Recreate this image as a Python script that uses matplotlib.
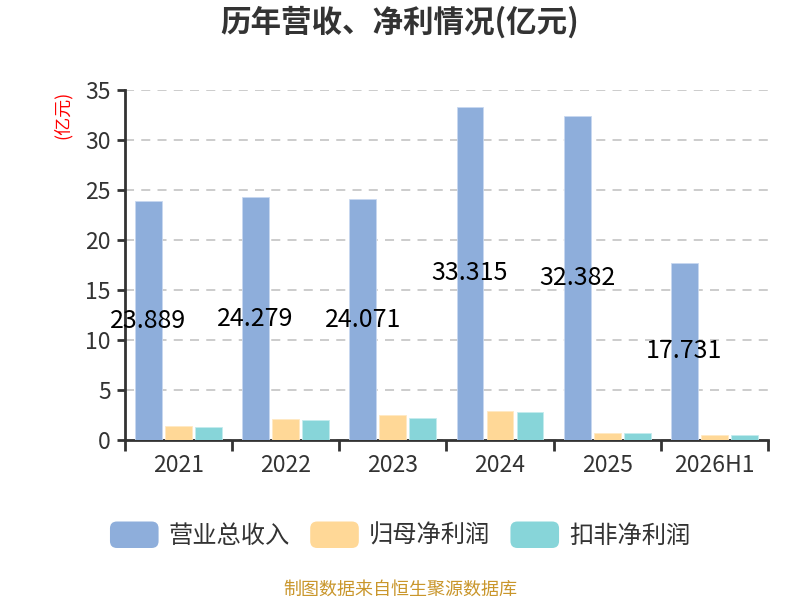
import matplotlib
matplotlib.use("Agg")
import matplotlib.pyplot as plt
import numpy as np
from matplotlib.patches import FancyBboxPatch, Patch
from matplotlib.legend_handler import HandlerPatch

plt.rcParams['font.family'] = ['Noto Sans CJK SC', 'DejaVu Sans']

years = ["2021", "2022", "2023", "2024", "2025", "2026H1"]
revenue = [23.889, 24.279, 24.071, 33.315, 32.382, 17.731]
net_profit = [1.40, 2.10, 2.53, 2.93, 0.73, 0.53]
deducted_profit = [1.30, 2.00, 2.20, 2.83, 0.73, 0.50]

series_names = ["营业总收入", "归母净利润", "扣非净利润"]
colors = ["#8EAEDB", "#FFD897", "#87D5D9"]


class RoundHandler(HandlerPatch):
    def create_artists(self, legend, orig_handle, xdescent, ydescent,
                       width, height, fontsize, trans):
        p = FancyBboxPatch((-xdescent, -ydescent), width, height,
                           boxstyle="round,pad=0,rounding_size=5",
                           facecolor=orig_handle.get_facecolor(),
                           edgecolor="none", transform=trans)
        return [p]


fig = plt.figure(figsize=(8, 6), dpi=100)
ax = fig.add_axes([0.156, 0.2667, 0.804, 0.5833])

x = np.arange(len(years))
w = 0.25
off = 0.28
ax.bar(x - off, revenue, w, color=colors[0], edgecolor="#c8d8f0", linewidth=0.6, zorder=3)
ax.bar(x, net_profit, w, color=colors[1], edgecolor="#ffe9c4", linewidth=0.6, zorder=3)
ax.bar(x + off, deducted_profit, w, color=colors[2], edgecolor="#c4ecee", linewidth=0.6, zorder=3)

for xi, v in zip(x, revenue):
    ax.text(xi - off, v / 2, f"{v:.3f}", ha="center", va="center",
            fontsize=18, color="black", zorder=5)

ax.set_xlim(-0.5, len(years) - 0.5)
ax.set_ylim(0, 35)
ax.set_yticks(range(0, 36, 5))
ax.set_xticks(x)
ax.set_xticklabels(years)
ax.set_xticks(np.arange(-0.5, len(years), 1), minor=True)
ax.tick_params(axis="x", which="major", length=0, labelsize=16.5, colors="#333333", pad=10)
ax.tick_params(axis="x", which="minor", length=8, width=2, color="#333333")
ax.tick_params(axis="y", length=6, width=2, color="#333333", labelsize=16.5, labelcolor="#333333", pad=4)

for s in ["top", "right"]:
    ax.spines[s].set_visible(False)
for s in ["left", "bottom"]:
    ax.spines[s].set_color("#333333")
    ax.spines[s].set_linewidth(2)

ax.set_axisbelow(True)
ax.yaxis.grid(True, color="#c8c8c8", linestyle=(0, (5, 4)), linewidth=1.3)

fig.text(0.5, 0.962, "历年营收、净利情况(亿元)", ha="center", va="center",
         fontsize=22, fontweight="bold", color="#333333")
fig.text(0.078, 0.808, "(亿元)", ha="center", va="center", rotation=90,
         fontsize=13, color="red")

handles = [Patch(facecolor=c, label=n) for c, n in zip(colors, series_names)]
ax.legend(handles=handles, loc="center", bbox_to_anchor=(0.5, 0.108),
          bbox_transform=fig.transFigure, ncol=3, frameon=False,
          fontsize=17.5, handlelength=2.0, handleheight=1.3, columnspacing=0.85,
          handletextpad=0.4, labelcolor="#333333",
          handler_map={Patch: RoundHandler()})

fig.text(0.5, 0.017, "制图数据来自恒生聚源数据库", ha="center", va="center",
         fontsize=13, color="#C9962B")

fig.savefig("out.png", dpi=100)
